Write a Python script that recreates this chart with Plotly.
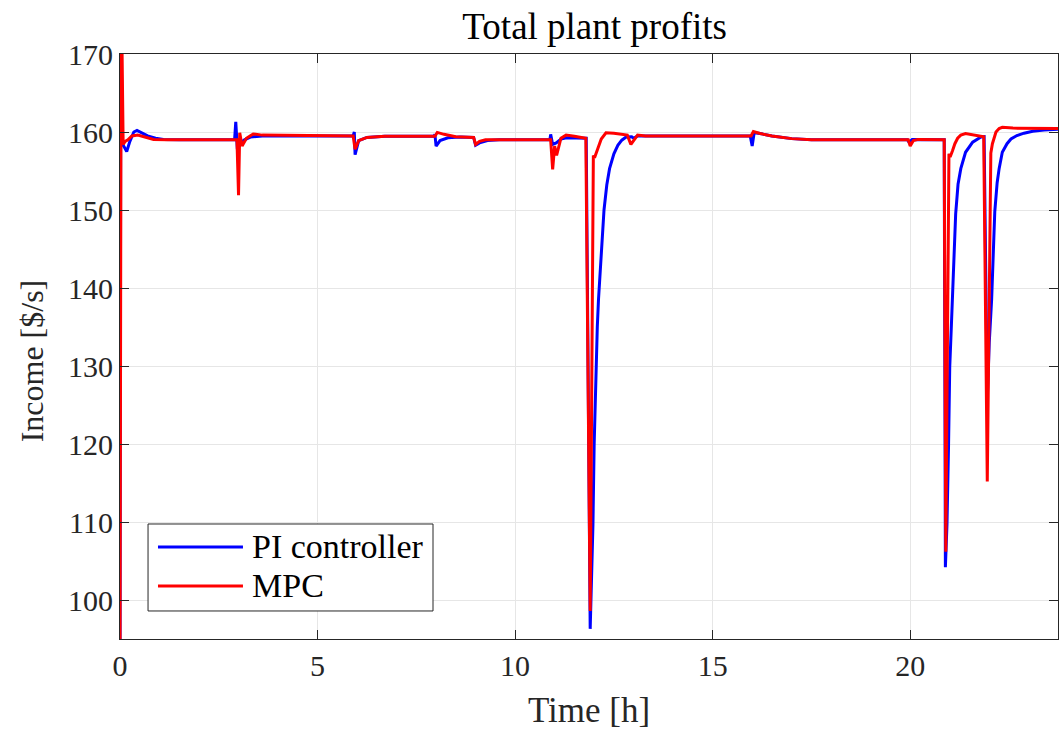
import plotly.graph_objects as go

# Total plant profit over the day: PI controller vs. MPC
t_pi = [0, 0.02, 0.06, 0.17, 0.25, 0.35, 0.43, 0.55, 0.7, 0.9, 1.1, 1.5, 2.9,
        2.93, 2.97, 3.05, 3.15, 3.3, 3.6, 5.9,
        5.93, 5.95, 6.04, 6.25, 6.7, 7.95,
        7.97, 8.0, 8.1, 8.3, 8.6, 8.95,
        9.0, 9.1, 9.3, 9.6, 10.88,
        10.9, 10.95, 11.04, 11.16, 11.3, 11.8,
        11.9, 11.94, 11.97, 12.0, 12.03, 12.05, 12.08, 12.11, 12.14, 12.17, 12.2, 12.25,
        12.32, 12.39, 12.5, 12.6, 12.7, 12.81, 12.95, 13.0, 13.1, 13.3, 15.95,
        16.0, 16.05, 16.2, 16.5, 17.0, 17.5, 19.93,
        19.97, 20.05, 20.2, 20.86,
        20.89, 20.93, 20.97, 21.0, 21.04, 21.07, 21.09, 21.12, 21.15, 21.21, 21.28,
        21.4, 21.58, 21.79, 21.87,
        21.95, 22.0, 22.06, 22.08, 22.11, 22.14, 22.2, 22.25, 22.33, 22.45, 22.55,
        22.7, 22.88, 23.1, 23.39, 23.74]
income_pi = [90, 175, 158.5, 157.5, 158.8, 160.0, 160.2, 159.9, 159.5, 159.2, 159.05, 159.0, 159.0,
             161.3, 157.8, 158.6, 159.0, 159.35, 159.5, 159.5,
             160.0, 157.1, 158.9, 159.3, 159.45, 159.45,
             159.7, 158.2, 158.9, 159.25, 159.35, 159.3,
             158.3, 158.6, 158.9, 159.0, 159.0,
             159.7, 158.4, 158.6, 159.1, 159.25, 159.2,
             96.3, 103.5, 109.7, 119.8, 126.0, 130.0, 135.0, 138.5, 141.0, 143.8, 146.3, 150.0,
             153.2, 155.3, 157.2, 158.3, 158.95, 159.35, 159.4, 159.2, 159.5, 159.5, 159.5,
             158.2, 159.9, 159.8, 159.5, 159.15, 159.0, 159.0,
             158.7, 159.05, 159.05, 159.0,
             104.2, 109.7, 119.8, 129.9, 135.0, 138.5, 140.5, 145.5, 149.5, 153.3, 155.3,
             157.4, 158.7, 159.35, 159.4,
             125.7, 133.0, 138.5, 141.0, 146.5, 149.8, 153.5, 155.3, 157.4, 158.5, 159.1,
             159.55, 159.85, 160.1, 160.25, 160.35]

t_mpc = [0, 0.03, 0.08, 0.13, 0.2, 0.3, 0.45, 0.6, 0.85, 1.2, 2.96,
         3.0, 3.03, 3.09, 3.2, 3.29, 3.37, 3.6, 5.9,
         5.95, 6.04, 6.25, 6.7, 7.97,
         8.03, 8.2, 8.5, 8.95,
         9.0, 9.1, 9.25, 10.9,
         10.95, 11.0, 11.05, 11.16, 11.29, 11.5, 11.79,
         11.9, 11.98, 12.01, 12.09, 12.18, 12.3, 12.5, 12.84, 12.93, 13.1, 13.3, 15.97,
         16.03, 16.2, 16.5, 17.0, 17.5, 19.95,
         20.0, 20.08, 20.2, 20.86,
         20.9, 20.98, 21.01, 21.07, 21.13, 21.2, 21.28, 21.4, 21.86,
         21.95, 22.04, 22.08, 22.17, 22.25, 22.33, 22.6, 23.74]
income_mpc = [90, 180, 158.4, 158.8, 159.0, 159.5, 159.6, 159.4, 159.05, 159.0, 159.0,
              151.9, 159.9, 158.2, 159.2, 159.5, 159.75, 159.6, 159.5,
              157.8, 158.9, 159.3, 159.45, 159.45,
              159.95, 159.7, 159.4, 159.3,
              158.4, 158.8, 159.0, 159.0,
              155.2, 158.2, 157.0, 159.2, 159.6, 159.45, 159.2,
              98.6, 157.0, 156.7, 157.8, 159.1, 159.9, 159.85, 159.6, 158.4, 159.6, 159.5, 159.5,
              160.05, 159.8, 159.5, 159.15, 159.0, 159.0,
              158.2, 158.9, 159.05, 159.0,
              106.2, 157.2, 156.8, 157.6, 158.5, 159.2, 159.6, 159.8, 159.4,
              115.2, 157.3, 158.5, 160.0, 160.45, 160.6, 160.5, 160.45]

x_ticks = [0, 5, 10, 15, 20]
y_ticks = [100, 110, 120, 130, 140, 150, 160, 170]
series_names = ["PI controller", "MPC"]
series_colors = ["#0000ff", "#ff0000"]

FONT = "Liberation Serif"
AX = "#262626"

fig = go.Figure()
fig.add_trace(go.Scatter(x=t_pi, y=income_pi, mode="lines", name=series_names[0],
                         line=dict(color=series_colors[0], width=3), showlegend=False))
fig.add_trace(go.Scatter(x=t_mpc, y=income_mpc, mode="lines", name=series_names[1],
                         line=dict(color=series_colors[1], width=3), showlegend=False))

axis_common = dict(showline=True, linecolor=AX, linewidth=1, mirror="ticks",
                   ticks="inside", ticklen=9, tickwidth=1, tickcolor=AX,
                   showgrid=True, gridcolor="#e6e6e6", gridwidth=1, zeroline=False,
                   tickfont=dict(family=FONT, size=30, color=AX))

fig.update_xaxes(range=[0, 23.74], tickvals=x_ticks, ticktext=[str(v) for v in x_ticks],
                 title=dict(text="Time [h]", font=dict(family=FONT, size=35, color=AX), standoff=16),
                 **axis_common)
fig.update_yaxes(range=[95, 170], tickvals=y_ticks, ticktext=[str(v) for v in y_ticks],
                 **axis_common)

# y-axis title, placed slightly below the plot's vertical centre
fig.add_annotation(xref="paper", yref="paper", x=-0.0936, y=0.475, text="Income [$/s]",
                   textangle=-90, showarrow=False, xanchor="center", yanchor="middle",
                   font=dict(family=FONT, size=32, color=AX))

# Legend box drawn in paper coordinates (long line samples)
lx0, lx1, ly0, ly1 = 0.0299, 0.3337, 0.0479, 0.1966
fig.add_shape(type="rect", xref="paper", yref="paper", x0=lx0, x1=lx1, y0=ly0, y1=ly1,
              line=dict(color=AX, width=1), fillcolor="white", layer="above")
row_y = [0.1573, 0.0906]
for name, color, yy in zip(series_names, series_colors, row_y):
    fig.add_shape(type="line", xref="paper", yref="paper", x0=0.0405, x1=0.1311, y0=yy, y1=yy,
                  line=dict(color=color, width=3), layer="above")
    fig.add_annotation(xref="paper", yref="paper", x=0.1386, y=yy, text=name, showarrow=False,
                       xanchor="left", yanchor="middle",
                       font=dict(family=FONT, size=34, color="black"))

fig.update_layout(
    width=1059, height=731,
    margin=dict(l=120, r=1, t=54, b=92),
    paper_bgcolor="white", plot_bgcolor="white",
    title=dict(text="Total plant profits", xref="paper", x=0.506, xanchor="center",
               y=0.965, yanchor="middle",
               font=dict(family=FONT, size=37, color="black")),
)

fig.write_html("out.html")
